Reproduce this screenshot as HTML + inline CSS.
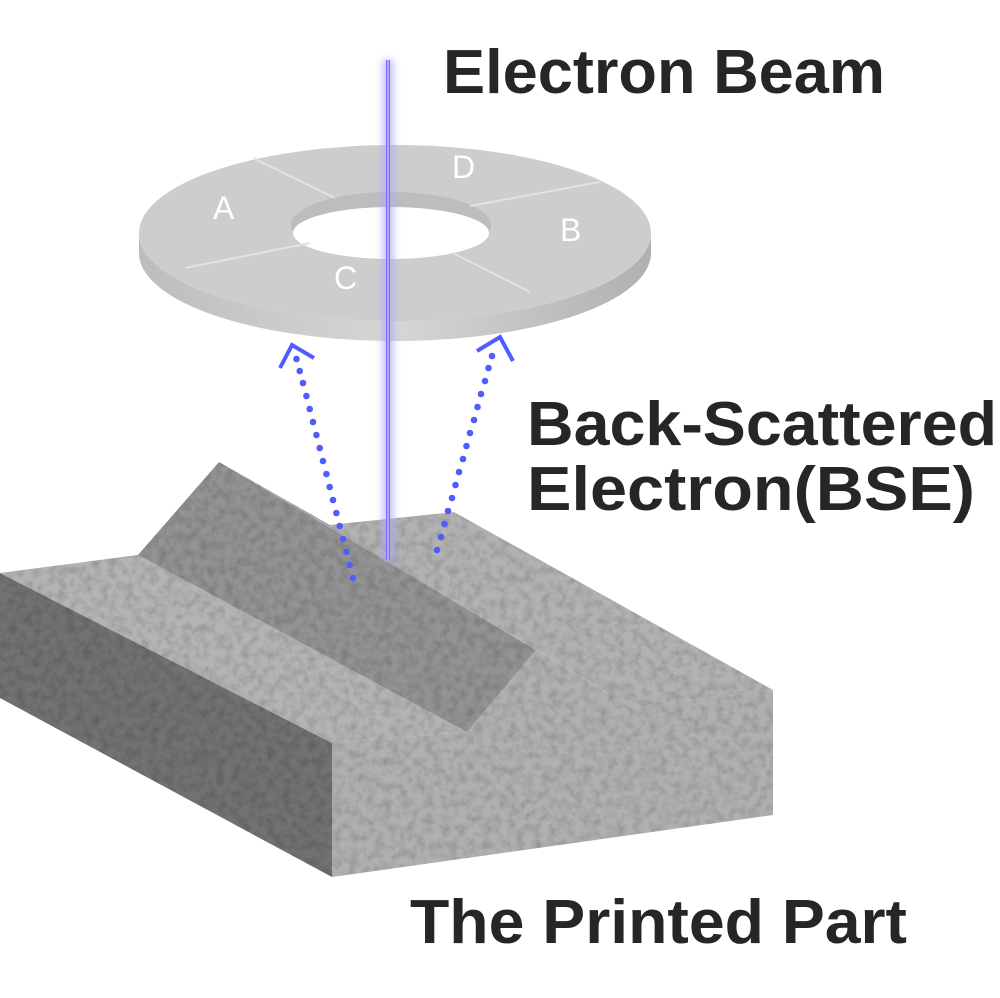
<!DOCTYPE html>
<html><head><meta charset="utf-8"><style>html,body{margin:0;padding:0;background:#fff}svg{display:block}</style></head>
<body>
<svg width="1000" height="998" viewBox="0 0 1000 998" xmlns="http://www.w3.org/2000/svg">
<defs>
<filter id="glow" x="-200%" y="-5%" width="500%" height="110%"><feGaussianBlur stdDeviation="4"/></filter>
<filter id="noise" x="0" y="0" width="100%" height="100%">
<feTurbulence type="fractalNoise" baseFrequency="0.12" numOctaves="3" seed="3" result="t"/>
<feColorMatrix in="t" type="matrix" values="0 0 0 0 0  0 0 0 0 0  0 0 0 0 0  0 0 0 -0.6 0.38" result="n"/>
<feComposite in="n" in2="SourceAlpha" operator="in" result="m"/>
<feMerge><feMergeNode in="SourceGraphic"/><feMergeNode in="m"/></feMerge>
</filter>
<linearGradient id="side" x1="0" x2="1"><stop offset="0" stop-color="#bdbdbd"/><stop offset="0.5" stop-color="#d6d6d6"/><stop offset="1" stop-color="#b0b0b0"/></linearGradient>
</defs>

<!-- ring -->
<path d="M139,233 A256,88 0 0 0 651,233 L651,253 A256,88 0 0 1 139,253 Z" fill="url(#side)"/>
<ellipse cx="395" cy="233" rx="256" ry="88" fill="#cdcdcd"/>
<ellipse cx="391" cy="225" rx="100" ry="33" fill="#bdbdbd"/>
<ellipse cx="391" cy="233" rx="98" ry="26" fill="#fff"/>
<g stroke="#e2e2e2" stroke-width="2">
<line x1="253" y1="158" x2="335" y2="198"/>
<line x1="470" y1="206" x2="600" y2="182"/>
<line x1="453" y1="253" x2="530" y2="292"/>
<line x1="310" y1="243" x2="185" y2="268"/>
</g>
<g font-family="Liberation Sans, sans-serif" font-size="32" fill="#fff">
<text x="213" y="219">A</text><text x="452" y="178">D</text><text x="560" y="241">B</text><text x="334" y="289">C</text>
</g>

<!-- block -->
<g filter="url(#noise)">
<polygon points="0,573 332,743 332,877 0,698" fill="#727272"/>
<polygon points="332,743 467,732 536,650 633,708 773,690 773,815 332,877" fill="#b0b0b0"/>
<polygon points="0,573 138,555 467,732 332,743" fill="#b4b4b4"/>
<polygon points="138,555 219,462 536,650 467,732" fill="#939393"/>
<polygon points="219,462 330,525 633,708 536,650" fill="#adadad"/>
<polygon points="330,525 454,512 773,690 633,708" fill="#b2b2b2"/>
</g>

<!-- beam -->
<rect x="383" y="60" width="10" height="500" fill="#b0a8ff" filter="url(#glow)" opacity="0.8"/>
<rect x="386" y="60" width="4" height="500" fill="#7b6cff"/>
<rect x="387.5" y="60" width="1" height="500" fill="#e8e4ff"/>

<!-- arrows -->
<g fill="#4f5dff">
<circle cx="353" cy="578" r="3.3"/><circle cx="349.7" cy="565" r="3.3"/><circle cx="346.4" cy="552" r="3.3"/><circle cx="343" cy="539" r="3.3"/><circle cx="339.7" cy="526" r="3.3"/><circle cx="336.4" cy="513" r="3.3"/><circle cx="333" cy="500" r="3.3"/><circle cx="329.7" cy="487" r="3.3"/><circle cx="326.4" cy="474" r="3.3"/><circle cx="323" cy="461" r="3.3"/><circle cx="319.7" cy="448" r="3.3"/><circle cx="316.4" cy="435" r="3.3"/><circle cx="313" cy="422" r="3.3"/><circle cx="309.7" cy="409" r="3.3"/><circle cx="306.4" cy="396" r="3.3"/><circle cx="303" cy="383" r="3.3"/><circle cx="299.7" cy="371" r="3.3"/><circle cx="296.5" cy="359" r="3.3"/>
<circle cx="437" cy="550" r="3.3"/><circle cx="441" cy="537" r="3.3"/><circle cx="444.5" cy="524" r="3.3"/><circle cx="448" cy="511" r="3.3"/><circle cx="452" cy="498" r="3.3"/><circle cx="455.5" cy="485" r="3.3"/><circle cx="459" cy="472" r="3.3"/><circle cx="463" cy="459" r="3.3"/><circle cx="466.5" cy="446" r="3.3"/><circle cx="470" cy="433" r="3.3"/><circle cx="474" cy="420" r="3.3"/><circle cx="477.5" cy="407" r="3.3"/><circle cx="481" cy="394" r="3.3"/><circle cx="485" cy="381" r="3.3"/><circle cx="488.5" cy="368" r="3.3"/><circle cx="492" cy="356" r="3.3"/>
</g>
<g fill="none" stroke="#4f5dff" stroke-width="4">
<polyline points="280,368 292,345 314,358"/>
<polyline points="477,351 500,337 513,361"/>
</g>

<!-- labels -->
<g font-family="Liberation Sans, sans-serif" font-weight="bold" font-size="62" fill="#262626">
<text x="443" y="93" textLength="442" lengthAdjust="spacingAndGlyphs">Electron Beam</text>
<text x="527" y="445" textLength="470" lengthAdjust="spacingAndGlyphs">Back-Scattered</text>
<text x="527" y="510" textLength="448" lengthAdjust="spacingAndGlyphs">Electron(BSE)</text>
<text x="410" y="943" textLength="497" lengthAdjust="spacingAndGlyphs">The Printed Part</text>
</g>
</svg>
</body></html>
